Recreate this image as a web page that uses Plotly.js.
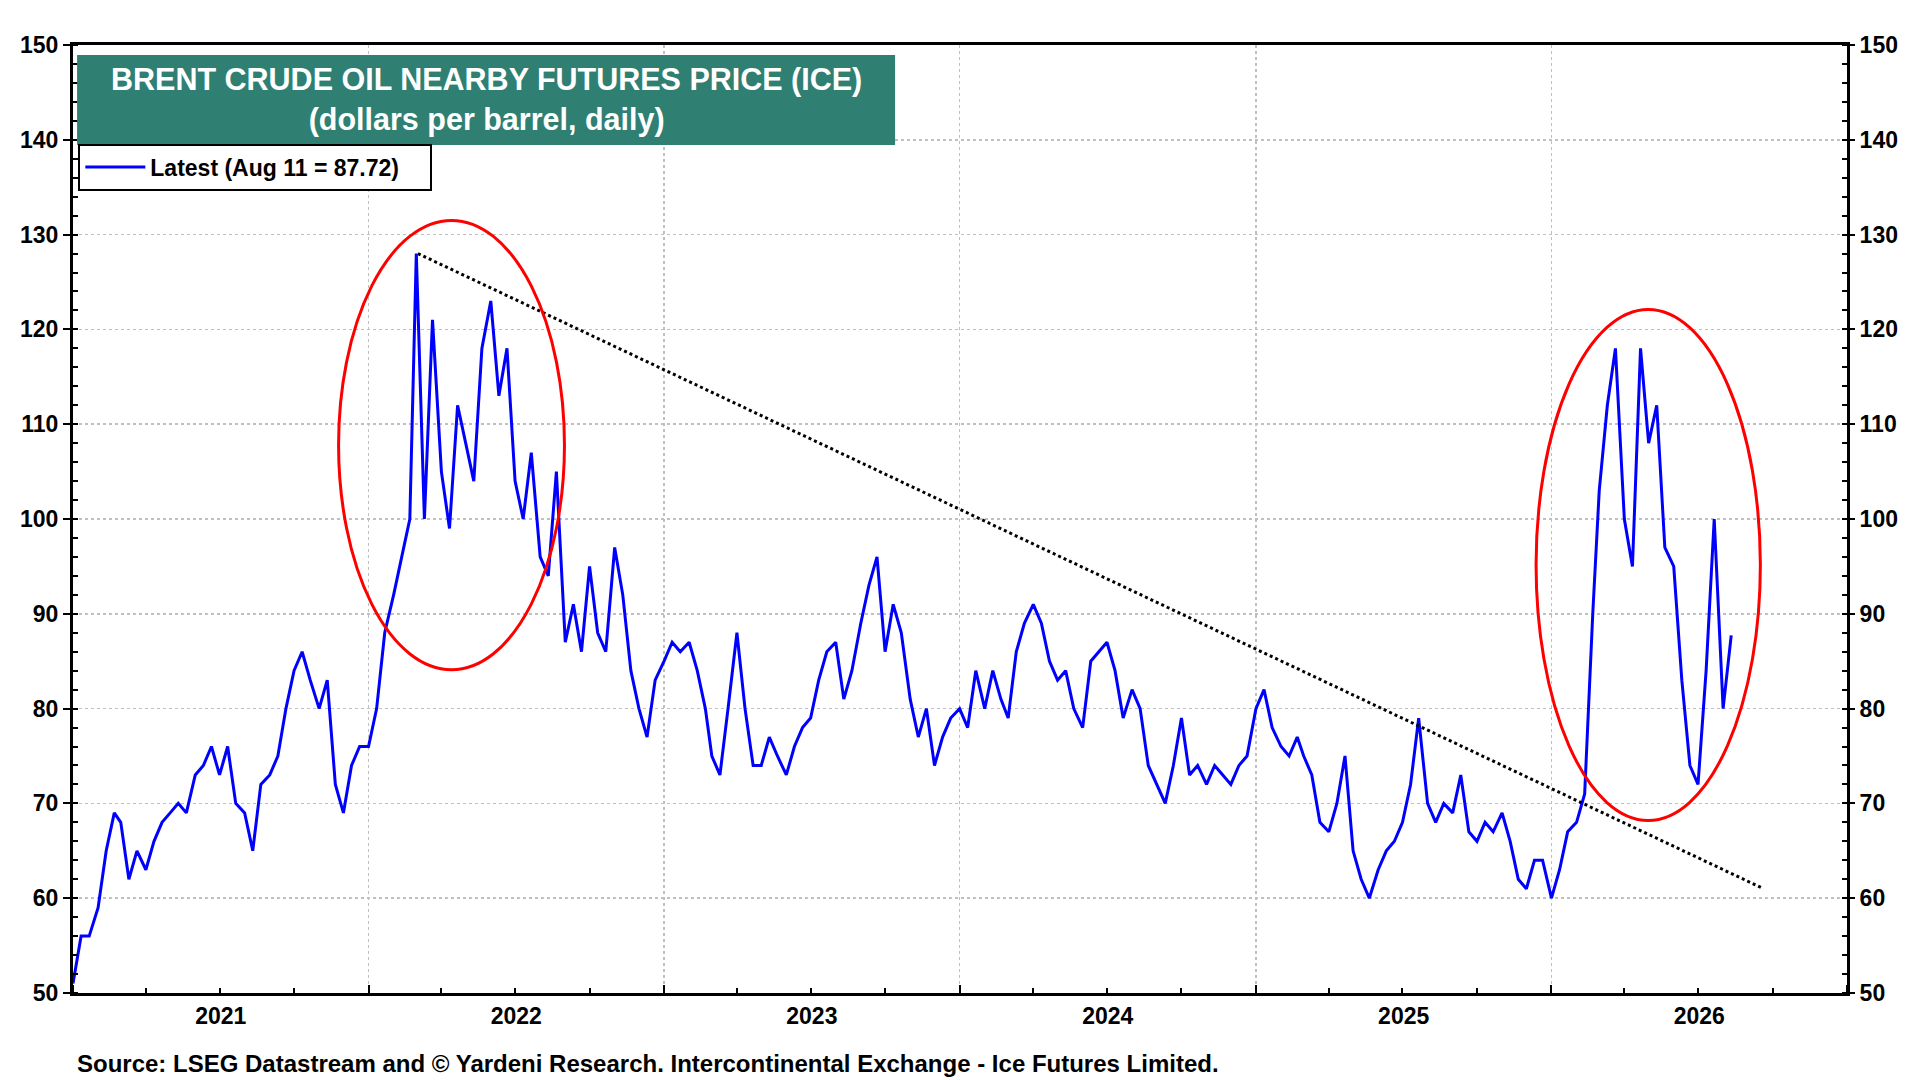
<!DOCTYPE html>
<html>
<head>
<meta charset="utf-8">
<script src="https://cdn.plot.ly/plotly-3.0.1.min.js"></script>
<style>
  body { margin: 0; background: #fff; }
  #chart { width: 1920px; height: 1080px; }
</style>
</head>
<body>
<div id="chart"></div>
<script>
// Brent, three readings per month (1st, 11th, 21st)
const prices2021 = [51,56,56, 59,65,69, 68,62,65, 63,66,68, 69,70,69, 73,74,76,
                    73,76,70, 69,65,72, 73,75,80, 84,86,83, 80,83,72, 69,74,76]
const prices2022 = [76,80,88, 92,96,100, 128,100,121, 105,99,112, 108,104,118, 123,113,118,
                    104,100,107, 96,94,105, 87,91,86, 95,88,86, 97,92,84, 80,77,83]
const prices2023 = [85,87,86, 87,84,80, 75,73,80, 88,80,74, 74,77,75, 73,76,78,
                    79,83,86, 87,81,84, 89,93,96, 86,91,88, 81,77,80, 74,77,79]
const prices2024 = [80,78,84, 80,84,81, 79,86,89, 91,89,85, 83,84,80, 78,85,86,
                    87,84,79, 82,80,74, 72,70,74, 79,73,74, 72,74,73, 72,74,75]
const prices2025 = [80,82,78, 76,75,77, 75,73,68, 67,70,75, 65,62,60, 63,65,66,
                    68,72,79, 70,68,70, 69,73,67, 66,68,67, 69,66,62, 61,64,64]
const prices2026 = [60,63,67, 68,71,90, 103,112,118, 100,95,118, 108,112,97, 95,83,74,
                    72,84,100, 80,87.72]

const prices = [].concat(prices2021, prices2022, prices2023, prices2024, prices2025, prices2026)
const readDays = ['01', '11', '21']
const dates = []
for (let y = 2021; dates.length < prices.length; y++) {
    for (let m = 1; m <= 12 && dates.length < prices.length; m++) {
        for (const d of readDays) {
            if (dates.length < prices.length) dates.push(y + '-' + String(m).padStart(2, '0') + '-' + d)
        }
    }
}

const trendStart = ['2022-03-03', 128]
const trendEnd = ['2026-09-20', 61]
const circle1 = {x0: '2021-11-25', x1: '2022-08-31', y0: 84.1, y1: 131.5}
const circle2 = {x0: '2025-12-13', x1: '2026-09-16', y0: 68.2, y1: 122.1}

const font = 'Arial, "Liberation Sans", sans-serif'

const yAxisBase = {
    range: [50, 150], dtick: 10, tickfont: {family: font, size: 23, color: '#000', weight: 'bold'},
    showgrid: true, gridcolor: '#c0c0c0', griddash: 'dot', gridwidth: 1.5,
    ticks: 'outside', ticklen: 7, tickwidth: 2, tickcolor: '#000',
    minor: {dtick: 2, ticks: 'inside', ticklen: 5, tickcolor: '#000', showgrid: false},
    zeroline: false, fixedrange: true
}

const data = [
    {x: dates, y: prices, type: 'scatter', mode: 'lines', name: 'Latest (Aug 11 = 87.72)    ',
     line: {color: '#0000ff', width: 3}},
    {x: dates, y: prices, type: 'scatter', mode: 'lines', yaxis: 'y2', showlegend: false,
     hoverinfo: 'skip', line: {color: 'rgba(0,0,0,0)', width: 0}}
]

const layout = {
    width: 1920, height: 1080,
    margin: {l: 73, r: 73, t: 45, b: 87},
    paper_bgcolor: '#fff', plot_bgcolor: '#fff',
    showlegend: true,
    legend: {x: 0.003, y: 0.896, xanchor: 'left', yanchor: 'top', bgcolor: '#fff',
             bordercolor: '#000', borderwidth: 2, itemwidth: 60,
             font: {family: font, size: 23, color: '#000', weight: 'bold'}},
    xaxis: {
        type: 'date', range: ['2021-01-01', '2027-01-01'],
        tick0: '2021-01-01', dtick: 'M12', tickformat: '%Y', ticklabelmode: 'period',
        tickfont: {family: font, size: 23, color: '#000', weight: 'bold'},
        showgrid: true, gridcolor: '#c0c0c0', griddash: 'dot', gridwidth: 1.5,
        ticks: 'inside', ticklen: 8, tickwidth: 2, tickcolor: '#000',
        minor: {dtick: 'M3', ticks: 'inside', ticklen: 5, tickcolor: '#000', showgrid: false},
        showline: true, linecolor: '#000', linewidth: 3, mirror: true, fixedrange: true
    },
    yaxis: Object.assign({}, yAxisBase, {side: 'left', showline: true, linecolor: '#000', linewidth: 3, mirror: true}),
    yaxis2: Object.assign({}, yAxisBase, {side: 'right', overlaying: 'y', showgrid: false}),
    shapes: [
        {type: 'rect', xref: 'paper', yref: 'paper', x0: 0.0023, x1: 0.4634, y0: 0.8945, y1: 0.9895,
         fillcolor: '#2f7f72', line: {width: 0}},
        {type: 'line', xref: 'x', yref: 'y', x0: trendStart[0], y0: trendStart[1], x1: trendEnd[0], y1: trendEnd[1],
         line: {color: '#000', width: 3, dash: 'dot'}},
        Object.assign({type: 'circle', xref: 'x', yref: 'y', line: {color: '#ff0000', width: 3}}, circle1),
        Object.assign({type: 'circle', xref: 'x', yref: 'y', line: {color: '#ff0000', width: 3}}, circle2)
    ],
    annotations: [
        {xref: 'paper', yref: 'paper', x: 0.233, y: 0.943, xanchor: 'center', yanchor: 'middle', showarrow: false,
         text: 'BRENT CRUDE OIL NEARBY FUTURES PRICE (ICE)<br>(dollars per barrel, daily)',
         font: {family: font, size: 30.5, color: '#fff', weight: 'bold'}, align: 'center'},
        {xref: 'paper', yref: 'paper', x: 0.001, y: -0.074, xanchor: 'left', yanchor: 'middle', showarrow: false,
         text: 'Source: LSEG Datastream and © Yardeni Research. Intercontinental Exchange - Ice Futures Limited.',
         font: {family: font, size: 24, color: '#000', weight: 'bold'}}
    ]
}

Plotly.newPlot('chart', data, layout, {displayModeBar: false, staticPlot: true})
</script>
</body>
</html>
